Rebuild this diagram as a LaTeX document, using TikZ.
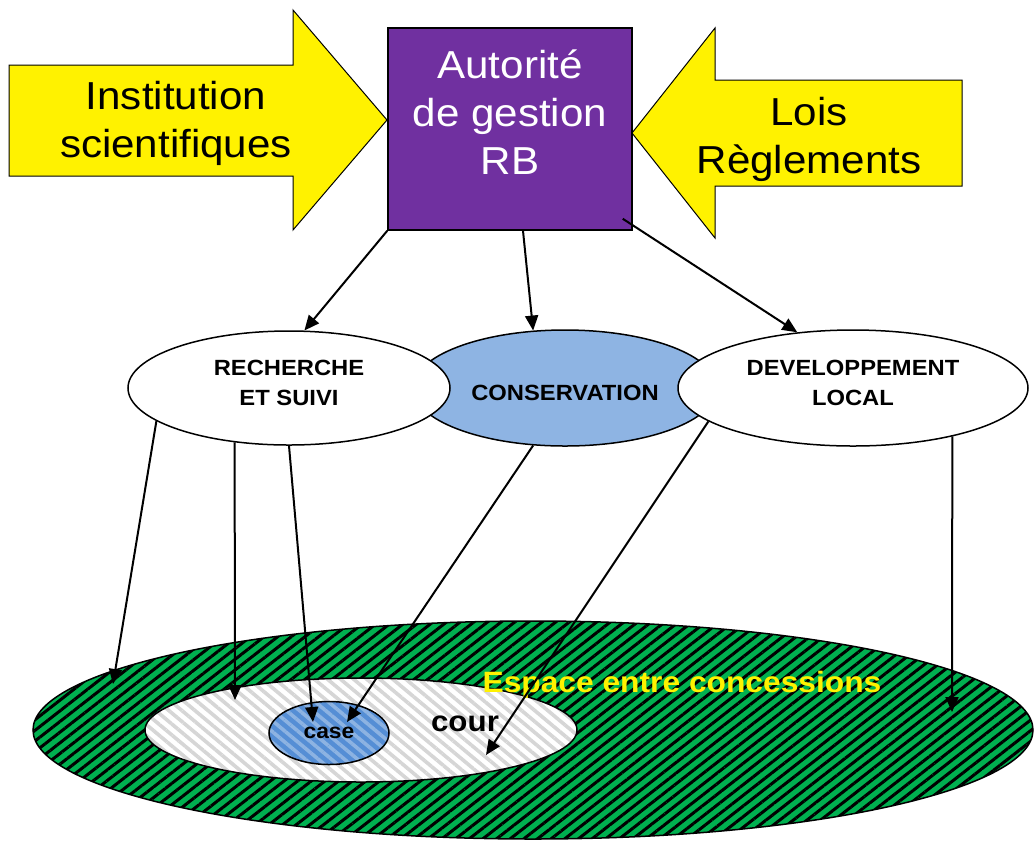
\documentclass[tikz,border=0pt]{standalone}
\usepackage{fontspec}
\setmainfont{Liberation Sans}[FakeStretch=1.08]
\usetikzlibrary{arrows.meta,patterns.meta,shapes.geometric}
\definecolor{rbpurple}{HTML}{7030A0}
\definecolor{rbgreen}{HTML}{00B050}
\definecolor{rbblue}{HTML}{558ED5}
\definecolor{rblight}{HTML}{8EB4E3}
\definecolor{rbstripe}{HTML}{8DB3E2}
\definecolor{rbgray}{HTML}{D6D6D6}
\newcommand\otop{\rule{0pt}{10pt}}
\newcommand\obot{\rule[-8pt]{0pt}{8pt}}
\newcommand\bstrut{\rule[-19.8pt]{0pt}{1pt}}
\begin{document}
\begin{tikzpicture}[x=0.5pt,y=-0.5pt,
 bigarrow/.style={draw=black,line width=0.5pt,fill=yellow},
 bigtext/.style={inner sep=0pt,align=center,font=\fontsize{19.5}{24}\selectfont},
 oval/.style={ellipse,draw=black,line width=0.75pt,inner sep=0pt,align=center,font=\bfseries\fontsize{11}{15}\selectfont},
 zone/.style={ellipse,draw=black,line width=0.75pt,inner sep=0pt},
 link/.style={draw=black,line width=1pt,-{Triangle[length=7.5pt,width=6.5pt]}}]
\useasboundingbox (0,0) rectangle (1035,843);

% zones
\node[zone,minimum width=500pt,minimum height=109pt,preaction={fill=rbgreen},
  pattern={Lines[angle=38,distance=4.2pt,line width=1.5pt]},pattern color=black] (espace) at (533,730) {};
\node[zone,minimum width=216pt,minimum height=52pt,preaction={fill=white},
  pattern={Lines[angle=-40,distance=4.2pt,line width=1.8pt]},pattern color=rbgray] (cour) at (361,730) {};
\node[zone,minimum width=60pt,minimum height=31.5pt,preaction={fill=rbblue},
  pattern={Lines[angle=-40,distance=4.2pt,line width=1.8pt]},pattern color=rbstripe,
  font=\bfseries\fontsize{10.6}{12}\selectfont] (case) at (329,733) {case};
\node[anchor=base,inner sep=0pt,font=\bfseries\fontsize{14.5}{17}\selectfont] (courtext) at (465,731) {cour};
\node[anchor=base,inner sep=0pt,text=yellow,font=\bfseries\fontsize{14.7}{17}\selectfont] (espacetext) at (682,692) {Espace entre concessions};

% big arrows
\draw[bigarrow] (9,65) -- (293,65) -- (293,10) -- (387,120) -- (293,230) -- (293,176) -- (9,176) -- cycle;
\node[bigtext] (inst) at (176,124) {\strut Institution\\scientifiques\strut};
\draw[bigarrow] (962,80) -- (715,80) -- (715,28) -- (632,133) -- (715,238) -- (715,186) -- (962,186) -- cycle;
\node[bigtext] (lois) at (809,140) {\strut Lois\\Règlements\strut};

% authority
\node[draw=black,line width=0.75pt,fill=rbpurple,text=white,minimum width=122pt,minimum height=101pt,
  inner sep=0pt,align=center,font=\fontsize{19.5}{24}\selectfont] (box) at (510,129)
  {\strut Autorité\\de gestion\\RB\bstrut};

% domains
\node[oval,fill=rblight,minimum width=152pt,minimum height=58pt] (cons) at (565,388) {\rule{0pt}{13pt}CONSERVATION};
\node[oval,fill=white,minimum width=161pt,minimum height=57pt] (rech) at (289,388) {\otop RECHERCHE\\ET SUIVI\obot};
\node[oval,fill=white,minimum width=175pt,minimum height=58pt] (dev) at (853,388) {\otop DEVELOPPEMENT\\LOCAL\obot};

% targets
\coordinate (g1) at (113,684);
\coordinate (g2) at (235,700);
\coordinate (c1) at (313,722);
\coordinate (c2) at (347,722);
\coordinate (k1) at (486,755);
\coordinate (g3) at (952,712);

% links
\draw[link] (box.south west) -- (rech.75);
\draw[link] ([xshift=6.5pt]box.south) -- (cons.119);
\draw[link] ([shift={(-5pt,6pt)}]box.south east) -- (dev.135);
\draw[link] (rech.194) -- (g1);
\draw[link] (rech.225) -- (g2);
\draw[link] (rech.south) -- (c1);
\draw[link] (cons.241) -- (c2);
\draw[link] (dev.193) -- (k1);
\draw[link] (dev.334) -- (g3);
\end{tikzpicture}
\end{document}
